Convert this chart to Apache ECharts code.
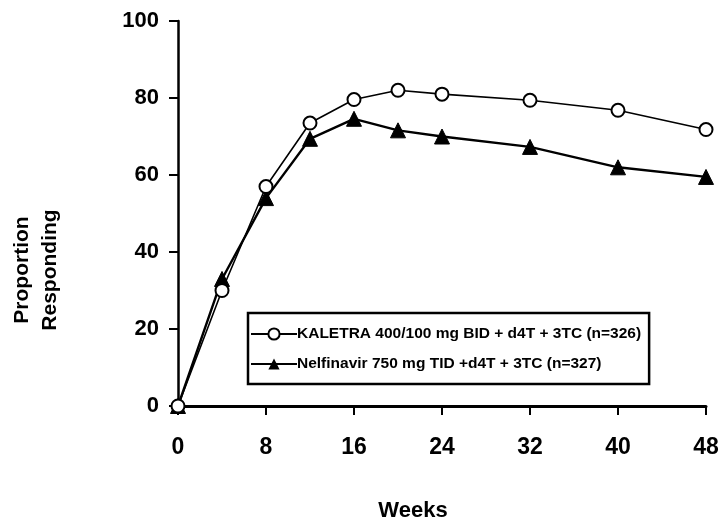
<!DOCTYPE html>
<html><head><meta charset="utf-8">
<script src="https://cdn.jsdelivr.net/npm/echarts@6/dist/echarts.min.js"></script>
<style>html,body{margin:0;padding:0;background:#fff}#c{width:722px;height:525px}</style>
</head><body><div id="c"></div>
<script>
var weeks = [0, 4, 8, 12, 16, 20, 24, 32, 40, 48];
var kaletra = [0, 30, 57, 73.5, 79.6, 82, 81, 79.4, 76.8, 71.8];
var nelfinavir = [0, 33, 54, 69.4, 74.6, 71.6, 70, 67.3, 62, 59.5];
var seriesNames = ['KALETRA 400/100 mg BID + d4T + 3TC (n=326)', 'Nelfinavir 750 mg TID +d4T + 3TC (n=327)'];
var xTicks = [0, 8, 16, 24, 32, 40, 48];
var yTicks = [0, 20, 40, 60, 80, 100];
var yName = ['Proportion', 'Responding'];
var xName = 'Weeks';

function pairs(xs, ys){ return xs.map(function(x,i){ return [x, ys[i]]; }); }

var chart = echarts.init(document.getElementById('c'));
chart.setOption({
  animation: false,
  backgroundColor: '#fff',
  grid: { left: 178, right: 16, top: 21, bottom: 119 },
  xAxis: {
    type: 'value', min: xTicks[0], max: xTicks[xTicks.length-1], interval: 8,
    axisLine: { lineStyle: { color: '#000', width: 3 } },
    axisTick: { show: true, length: 9, lineStyle: { color: '#000', width: 2 } },
    axisLabel: { color: '#000', fontFamily: 'Liberation Sans, Arial', fontWeight: 'bold', fontSize: 23, margin: 30 },
    splitLine: { show: false }
  },
  yAxis: {
    type: 'value', min: yTicks[0], max: yTicks[yTicks.length-1], interval: 20,
    axisLine: { show: true, lineStyle: { color: '#000', width: 2.5 } },
    axisTick: { show: true, length: 9, lineStyle: { color: '#000', width: 2 } },
    axisLabel: { color: '#000', fontFamily: 'Liberation Sans, Arial', fontWeight: 'bold', fontSize: 22, margin: 19 },
    splitLine: { show: false }
  },
  legend: {
    orient: 'vertical', left: 248, top: 313,
    itemWidth: 46, itemHeight: 14, itemGap: 14,
    padding: [13, 8, 12, 2],
    borderColor: '#000', borderWidth: 2.5,
    textStyle: { color: '#000', fontFamily: 'Liberation Sans, Arial', fontWeight: 'bold', fontSize: 15.5, padding: [0,0,0,-5] },
    data: seriesNames
  },
  graphic: [
    { type: 'text', x: 22, y: 270, rotation: Math.PI/2, style: { text: yName[0], font: 'bold 21px "Liberation Sans", Arial', fill: '#000', align: 'center', verticalAlign: 'middle' } },
    { type: 'text', x: 50, y: 270, rotation: Math.PI/2, style: { text: yName[1], font: 'bold 21px "Liberation Sans", Arial', fill: '#000', align: 'center', verticalAlign: 'middle' } },
    { type: 'text', x: 413, y: 511, style: { text: xName, font: 'bold 22px "Liberation Sans", Arial', fill: '#000', align: 'center', verticalAlign: 'middle' } }
  ],
  series: [
    {
      name: seriesNames[0], type: 'line', data: pairs(weeks, kaletra),
      symbol: 'circle', symbolSize: 13,
      lineStyle: { color: '#000', width: 1.6 },
      itemStyle: { color: '#fff', borderColor: '#000', borderWidth: 2 },
      z: 3
    },
    {
      name: seriesNames[1], type: 'line', data: pairs(weeks, nelfinavir),
      symbol: 'triangle', symbolSize: 15,
      lineStyle: { color: '#000', width: 2.4 },
      itemStyle: { color: '#000', borderColor: '#000' },
      z: 2
    }
  ]
});
</script></body></html>
